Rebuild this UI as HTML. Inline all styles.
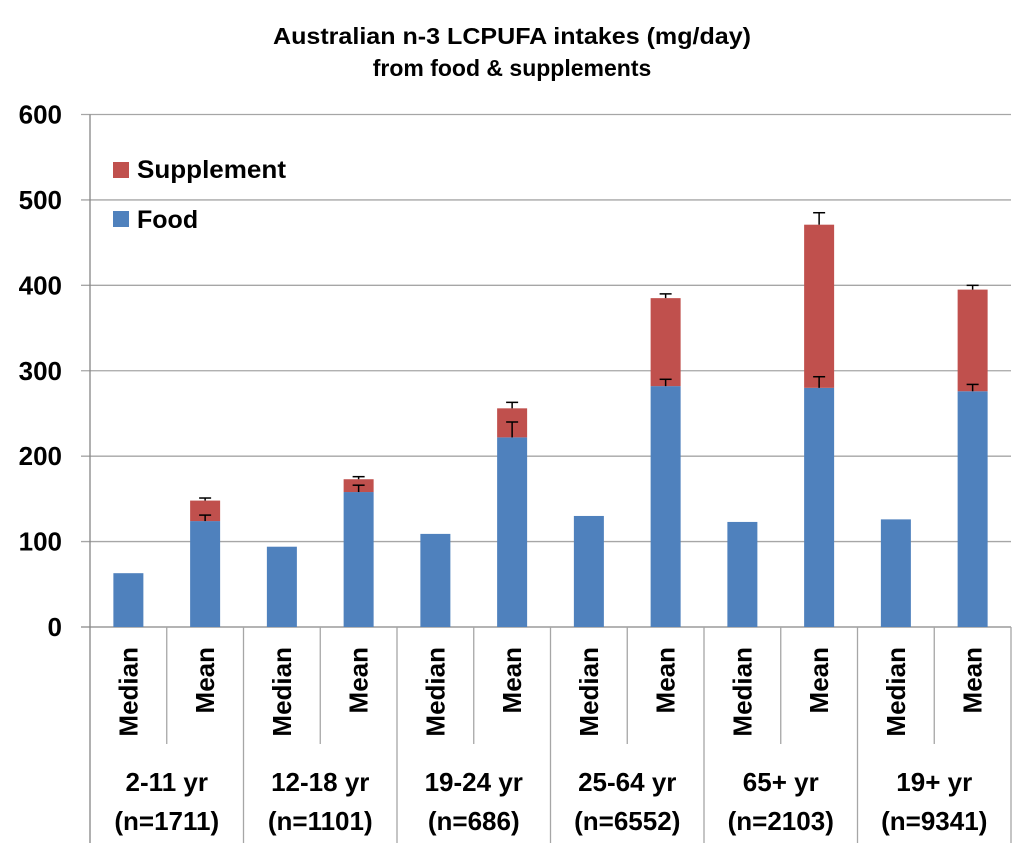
<!DOCTYPE html>
<html><head><meta charset="utf-8"><style>
html,body{margin:0;padding:0;background:#fff;}
svg{display:block;font-family:"Liberation Sans",sans-serif;font-weight:bold;}
</style></head><body>
<svg id="chart" width="1024" height="863" viewBox="0 0 1024 863">
<text x="512" y="44" text-anchor="middle" font-size="23" textLength="478" lengthAdjust="spacingAndGlyphs">Australian n-3 LCPUFA intakes (mg/day)</text>
<text x="512" y="76" text-anchor="middle" font-size="23">from food &amp; supplements</text>
<g id="grid"></g><g id="bars"></g><g id="axes"></g>
<g>
<rect x="113" y="162" width="16" height="16" fill="#c0504d"/>
<text x="137" y="178" font-size="25" textLength="149" lengthAdjust="spacingAndGlyphs">Supplement</text>
<rect x="113" y="211" width="16" height="16" fill="#4f81bd"/>
<text x="137" y="228" font-size="25">Food</text>
</g>
</svg>
<script>
const groups = ["2-11 yr","12-18 yr","19-24 yr","25-64 yr","65+ yr","19+ yr"];
const groupN = ["(n=1711)","(n=1101)","(n=686)","(n=6552)","(n=2103)","(n=9341)"];
const subLabels = ["Median","Mean"];
const medianFood = [63,94,109,130,123,126];
const meanFood = [124,158,222,282,280,276];
const meanSupplement = [24,15,34,103,191,119];
const foodErr = [7,8,18,8,13,8];
const totalErr = [3,3,7,5,14,5];
const yTicks = [0,100,200,300,400,500,600];

const NS="http://www.w3.org/2000/svg";
const x0=90, x1=1011, y0=627, yTop=114.5, yMax=600;
const slot=(x1-x0)/12, bw=30;
const Y=v=>y0-(v/yMax)*(y0-yTop);
const X=i=>x0+slot*(i+0.5);
function mk(p,tag,a){const e=document.createElementNS(NS,tag);for(const k in a)e.setAttribute(k,a[k]);p.appendChild(e);return e;}
const grid=document.getElementById('grid'),bars=document.getElementById('bars'),axes=document.getElementById('axes');
yTicks.forEach(t=>{
  const l=mk(grid,'line',{x1:81,x2:x1,y1:Y(t),y2:Y(t),stroke:t===0?'#868686':'#a6a6a6','stroke-width':1.3});
  
  
  const tx=mk(axes,'text',{x:62,y:Y(t)+9,'text-anchor':'end','font-size':26});
  tx.textContent=t;
  
  
});
const ax=mk(axes,'line',{x1:x0,x2:x0,y1:yTop,y2:843,stroke:'#868686','stroke-width':1.3});


function err(g,cx,from,to){
  mk(g,'line',{x1:cx,x2:cx,y1:Y(from),y2:Y(to),stroke:'#000','stroke-width':1.5});
  mk(g,'line',{x1:cx-6,x2:cx+6,y1:Y(to),y2:Y(to),stroke:'#000','stroke-width':1.5});
}
groups.forEach((gname,gi)=>{
  const im=gi*2, ie=gi*2+1;
  const r1=mk(bars,'rect',{x:X(im)-bw/2,y:Y(medianFood[gi]),width:bw,height:y0-Y(medianFood[gi]),fill:'#4f81bd'});
  
  
  const r2=mk(bars,'rect',{x:X(ie)-bw/2,y:Y(meanFood[gi]),width:bw,height:y0-Y(meanFood[gi]),fill:'#4f81bd'});
  
  
  const tot=meanFood[gi]+meanSupplement[gi];
  const r3=mk(bars,'rect',{x:X(ie)-bw/2,y:Y(tot),width:bw,height:Y(meanFood[gi])-Y(tot),fill:'#c0504d'});
  
  
  const eg=mk(bars,'g',{});
  
  
  err(eg,X(ie),meanFood[gi],meanFood[gi]+foodErr[gi]);
  err(eg,X(ie),tot,tot+totalErr[gi]);
  [im,ie].forEach((i,k)=>{
    const t=mk(axes,'text',{transform:`translate(${X(i)+9},647) rotate(-90)`,'text-anchor':'end','font-size':26});
    t.textContent=subLabels[k];
    
    
  });
  const sd=mk(axes,'line',{x1:x0+slot*(ie),x2:x0+slot*(ie),y1:y0,y2:744,stroke:'#a6a6a6','stroke-width':1.3});
  
  
  const gx=x0+slot*(im+2);
  const gd=mk(axes,'line',{x1:gx,x2:gx,y1:y0,y2:843,stroke:'#a6a6a6','stroke-width':1.3});
  
  
  const cx=x0+slot*(im+1);
  const g1=mk(axes,'text',{x:cx,y:791,'text-anchor':'middle','font-size':26});
  g1.textContent=gname;
  
  
  const g2=mk(axes,'text',{x:cx,y:830,'text-anchor':'middle','font-size':26});
  g2.textContent=groupN[gi];
  
  
});
</script>
</body></html>
